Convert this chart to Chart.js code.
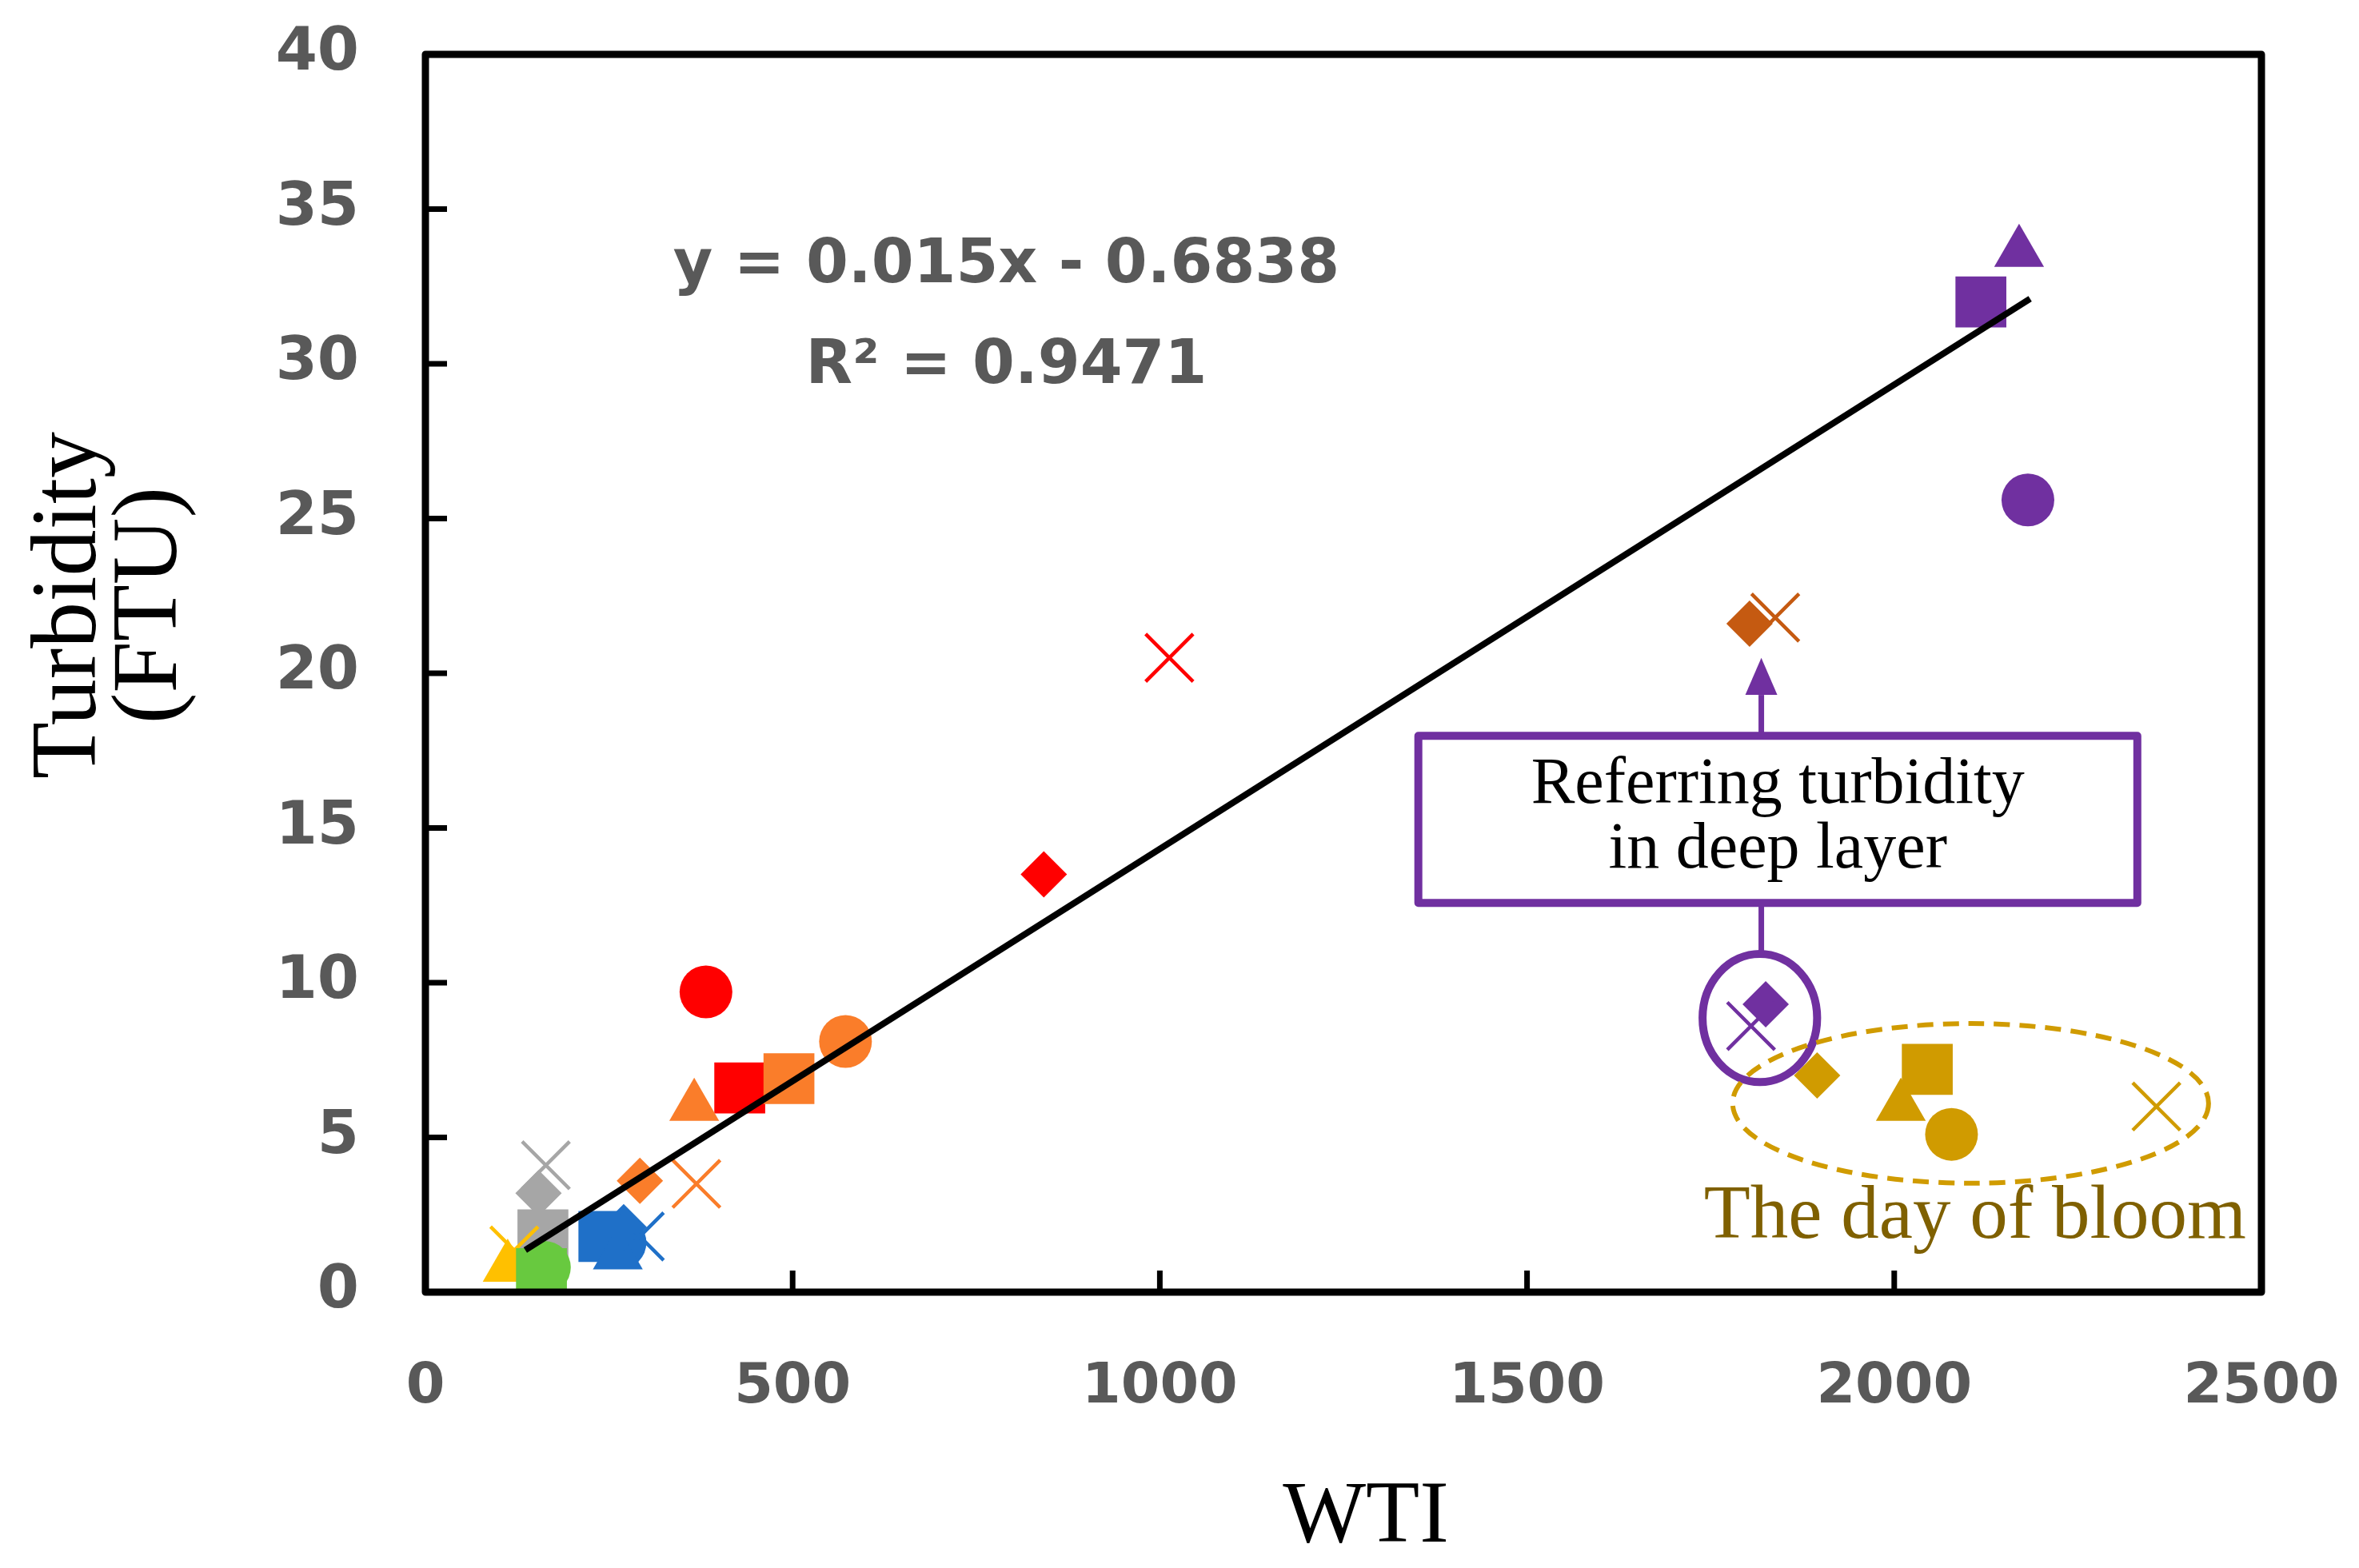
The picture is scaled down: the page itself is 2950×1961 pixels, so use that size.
<!DOCTYPE html>
<html>
<head>
<meta charset="utf-8">
<script src="https://cdn.jsdelivr.net/npm/chart.js@4.4.0/dist/chart.umd.min.js"></script>
<style>
html,body{margin:0;padding:0;background:#ffffff;}
#wrap{width:2950px;height:1961px;}
</style>
</head>
<body>
<div id="wrap"><canvas id="c" width="2950" height="1961"></canvas></div>
<script>
// ---------- tick labels ----------
const xTickValues = [0, 500, 1000, 1500, 2000, 2500];
const yTickValues = [0, 5, 10, 15, 20, 25, 30, 35, 40];

// ---------- series (WTI on x, Turbidity FTU on y) ----------
const purpleWTI  = [2182, 2118, 2170, 1825, 1805];
const purpleTurb = [25.6, 32.0, 33.6, 9.3, 8.6];
const purpleShape = ['circle', 'rect', 'triangle', 'rectRot', 'crossRot'];

const goldWTI  = [2078, 2045, 2009, 1895, 2357];
const goldTurb = [5.1, 7.2, 6.0, 7.0, 6.0];
const goldShape = ['circle', 'rect', 'triangle', 'rectRot', 'crossRot'];

const brownWTI  = [1803, 1838];
const brownTurb = [21.6, 21.8];
const brownShape = ['rectRot', 'crossRot'];

const redWTI  = [382, 428, 842, 1013];
const redTurb = [9.7, 6.6, 13.5, 20.5];
const redShape = ['circle', 'rect', 'rectRot', 'crossRot'];

const orangeWTI  = [572, 495, 366, 292, 369];
const orangeTurb = [8.1, 6.9, 6.0, 3.6, 3.5];
const orangeShape = ['circle', 'rect', 'triangle', 'rectRot', 'crossRot'];

const grayWTI  = [160, 154, 164];
const grayTurb = [1.85, 3.2, 4.1];
const grayShape = ['rect', 'rectRot', 'crossRot'];

const blueWTI  = [265, 243, 262, 270, 292];
const blueTurb = [1.6, 1.8, 1.2, 2.1, 1.8];
const blueShape = ['circle', 'rect', 'triangle', 'rectRot', 'crossRot'];

const yellowWTI  = [112, 121];
const yellowTurb = [0.8, 1.35];
const yellowShape = ['triangle', 'crossRot'];

const greenWTI  = [162, 158];
const greenTurb = [0.8, 0.6];
const greenShape = ['circle', 'rect'];

// linear trendline as drawn (end points)
const trendWTI  = [136, 2185];
const trendTurb = [1.36, 32.1];

const eqLines = ['y = 0.015x - 0.6838', 'R\u00B2 = 0.9471'];
const boxLines = ['Referring turbidity', 'in deep layer'];
const bloomLabel = 'The day of bloom';

// ---------- styling ----------
const colors = {
  purple: '#7030A0', gold: '#D09B00', brown: '#C55A11', red: '#FF0000',
  orange: '#FA7D2A', gray: '#A6A6A6', blue: '#1F70C8', yellow: '#FFC000', green: '#68C93F'
};
const radiusOf = { circle: 33, rect: 45, triangle: 36, rectRot: 29, crossRot: 42 };

// annotation anchors (in data units)
const annot = {
  eqX: 791, eqY: [33.15, 29.9],
  deep: { x: 1817, y: 8.86, rx: 78, ry: 2.07 },
  box: { x0: 1352, x1: 2331, y0: 12.58, y1: 17.98, lineY: [16.38, 14.28] },
  arrow: { x: 1819, tip: 20.5, base: 19.3 },
  bloom: { x: 2104, y: 6.1, rx: 324, ry: 2.58 },
  bloomText: { x: 2110, y: 1.76 }
};

function series(label, xs, ys, shapes, color, order) {
  return {
    type: 'scatter', label, order, showLine: false,
    data: xs.map((v, i) => ({ x: v, y: ys[i] })),
    pointStyle: shapes,
    pointRadius: shapes.map(s => radiusOf[s]),
    pointHoverRadius: shapes.map(s => radiusOf[s]),
    pointBackgroundColor: color,
    pointBorderColor: color,
    pointBorderWidth: shapes.map(s => s === 'crossRot' ? 4.5 : 0),
    backgroundColor: color, borderColor: color
  };
}

const datasets = [
  { type: 'line', label: 'trend', order: 0,
    data: trendWTI.map((v, i) => ({ x: v, y: trendTurb[i] })),
    borderColor: '#000000', borderWidth: 8, pointRadius: 0, fill: false, tension: 0 },
  series('green', greenWTI, greenTurb, greenShape, colors.green, 1),
  series('yellow', yellowWTI, yellowTurb, yellowShape, colors.yellow, 2),
  series('blue', blueWTI, blueTurb, blueShape, colors.blue, 3),
  series('gray', grayWTI, grayTurb, grayShape, colors.gray, 4),
  series('orange', orangeWTI, orangeTurb, orangeShape, colors.orange, 5),
  series('red', redWTI, redTurb, redShape, colors.red, 6),
  series('brown', brownWTI, brownTurb, brownShape, colors.brown, 7),
  series('purple', purpleWTI, purpleTurb, purpleShape, colors.purple, 8),
  series('gold', goldWTI, goldTurb, goldShape, colors.gold, 9)
];

const deco = {
  id: 'deco',
  afterDatasetsDraw(chart) {
    const { ctx, chartArea: a, scales } = chart;
    const X = v => scales.x.getPixelForValue(v);
    const Y = v => scales.y.getPixelForValue(v);
    ctx.save();

    // frame
    ctx.strokeStyle = '#000000';
    ctx.lineWidth = 9;
    ctx.lineJoin = 'round';
    ctx.strokeRect(a.left, a.top, a.right - a.left, a.bottom - a.top);
    // inward tick marks
    ctx.lineWidth = 7;
    ctx.lineCap = 'butt';
    xTickValues.slice(1, -1).forEach(v => {
      ctx.beginPath(); ctx.moveTo(X(v), a.bottom); ctx.lineTo(X(v), a.bottom - 27); ctx.stroke();
    });
    yTickValues.slice(1, -1).forEach(v => {
      ctx.beginPath(); ctx.moveTo(a.left, Y(v)); ctx.lineTo(a.left + 27, Y(v)); ctx.stroke();
    });

    // regression equation
    ctx.fillStyle = '#595959';
    ctx.font = 'bold 76px "DejaVu Sans"';
    ctx.textAlign = 'center';
    ctx.textBaseline = 'middle';
    ctx.fillText(eqLines[0], X(annot.eqX), Y(annot.eqY[0]));
    ctx.fillText(eqLines[1], X(annot.eqX), Y(annot.eqY[1]));

    // purple circle around deep-layer points
    const d = annot.deep;
    ctx.strokeStyle = colors.purple;
    ctx.lineWidth = 10;
    ctx.beginPath();
    ctx.ellipse(X(d.x), Y(d.y), X(d.x + d.rx) - X(d.x), Y(d.y) - Y(d.y + d.ry), 0, 0, Math.PI * 2);
    ctx.stroke();

    // connector from circle to box
    const b = annot.box;
    ctx.lineWidth = 7;
    ctx.beginPath();
    ctx.moveTo(X(annot.arrow.x), Y(d.y + d.ry));
    ctx.lineTo(X(annot.arrow.x), Y(b.y0));
    ctx.stroke();
    // arrow from box up to brown points
    ctx.beginPath();
    ctx.moveTo(X(annot.arrow.x), Y(b.y1));
    ctx.lineTo(X(annot.arrow.x), Y(annot.arrow.base));
    ctx.stroke();
    ctx.fillStyle = colors.purple;
    ctx.beginPath();
    ctx.moveTo(X(annot.arrow.x), Y(annot.arrow.tip));
    ctx.lineTo(X(annot.arrow.x) - 20, Y(annot.arrow.base));
    ctx.lineTo(X(annot.arrow.x) + 20, Y(annot.arrow.base));
    ctx.closePath();
    ctx.fill();

    // box
    ctx.fillStyle = '#ffffff';
    ctx.fillRect(X(b.x0), Y(b.y1), X(b.x1) - X(b.x0), Y(b.y0) - Y(b.y1));
    ctx.lineWidth = 10;
    ctx.strokeStyle = colors.purple;
    ctx.strokeRect(X(b.x0), Y(b.y1), X(b.x1) - X(b.x0), Y(b.y0) - Y(b.y1));
    ctx.fillStyle = '#000000';
    ctx.font = '82px "Liberation Serif"';
    ctx.textAlign = 'center';
    ctx.textBaseline = 'middle';
    const bx = (X(b.x0) + X(b.x1)) / 2;
    ctx.fillText(boxLines[0], bx, Y(b.lineY[0]));
    ctx.fillText(boxLines[1], bx, Y(b.lineY[1]));

    // bloom dashed ellipse
    const g = annot.bloom;
    ctx.strokeStyle = colors.gold;
    ctx.lineWidth = 6;
    ctx.setLineDash([20, 12]);
    ctx.beginPath();
    ctx.ellipse(X(g.x), Y(g.y), X(g.x + g.rx) - X(g.x), Y(g.y) - Y(g.y + g.ry), 0, 0, Math.PI * 2);
    ctx.stroke();
    ctx.setLineDash([]);

    ctx.fillStyle = '#7F6000';
    ctx.font = '95px "Liberation Serif"';
    ctx.textAlign = 'center';
    ctx.textBaseline = 'alphabetic';
    ctx.fillText(bloomLabel, X(annot.bloomText.x), Y(annot.bloomText.y));

    // axis titles
    ctx.fillStyle = '#000000';
    ctx.font = '110px "Liberation Serif"';
    ctx.textAlign = 'center';
    ctx.textBaseline = 'alphabetic';
    ctx.fillText('WTI', 1708, 1928);

    ctx.translate(119, 757);
    ctx.rotate(-Math.PI / 2);
    ctx.font = '116px "Liberation Serif"';
    ctx.fillText('Turbidity', 0, 0);
    ctx.fillText('(FTU)', 0, 101);

    ctx.restore();
  }
};

const xTickFont = { family: "'DejaVu Sans', Verdana, sans-serif", size: 70, weight: 'bold' };
const yTickFont = { family: "'DejaVu Sans', Verdana, sans-serif", size: 75, weight: 'bold' };

new Chart(document.getElementById('c').getContext('2d'), {
  type: 'scatter',
  data: { datasets },
  options: {
    responsive: false,
    animation: false,
    devicePixelRatio: 1,
    events: [],
    layout: { padding: { left: 0, top: 68, right: 122, bottom: 0 } },
    plugins: { legend: { display: false }, tooltip: { enabled: false } },
    scales: {
      x: {
        type: 'linear', min: 0, max: 2500,
        afterBuildTicks: s => { s.ticks = xTickValues.map(v => ({ value: v })); },
        afterFit: s => { s.height = 345; s.paddingLeft = 0; s.paddingRight = 0; },
        ticks: { font: xTickFont, color: '#595959', padding: 78, maxRotation: 0, autoSkip: false,
                 callback: v => String(v) },
        grid: { display: false, drawTicks: false },
        border: { display: false }
      },
      y: {
        type: 'linear', min: 0, max: 40,
        afterBuildTicks: s => { s.ticks = yTickValues.map(v => ({ value: v })); },
        afterFit: s => { s.width = 532; s.paddingTop = 0; s.paddingBottom = 0; },
        ticks: { font: yTickFont, color: '#595959', padding: 83, autoSkip: false,
                 callback: v => String(v) },
        grid: { display: false, drawTicks: false },
        border: { display: false }
      }
    }
  },
  plugins: [deco]
});
</script>
</body>
</html>
